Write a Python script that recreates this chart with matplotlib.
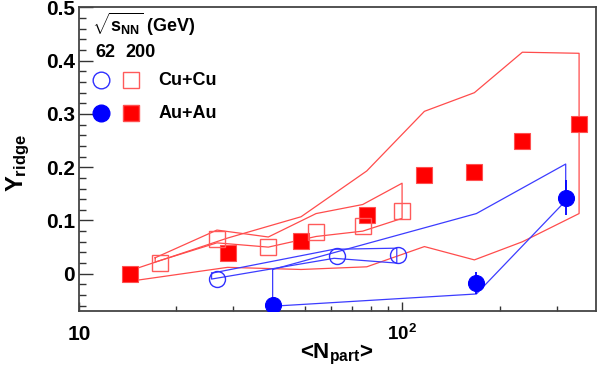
import numpy as np
import matplotlib.pyplot as plt
from matplotlib.ticker import FixedLocator, NullFormatter

plt.rcParams['font.family'] = 'Liberation Sans'
plt.rcParams['font.weight'] = 'bold'
plt.rcParams['mathtext.fontset'] = 'custom'
plt.rcParams['mathtext.rm'] = 'Liberation Sans:bold'
plt.rcParams['mathtext.it'] = 'Liberation Sans:bold'
plt.rcParams['mathtext.bf'] = 'Liberation Sans:bold'
plt.rcParams['mathtext.sf'] = 'Liberation Sans:bold'

# Au+Au 200 GeV (filled red squares) + systematic band
auau200_npart = [14.4, 28.8, 48.6, 77.6, 117, 167, 235, 352]
auau200_y = [0.0, 0.039, 0.062, 0.110, 0.185, 0.191, 0.250, 0.282]
auau200_band_n = [14.4, 28.8, 48.6, 77.6, 117, 167, 235, 352]
auau200_band_hi = [0.006, 0.067, 0.107, 0.193, 0.305, 0.340, 0.416, 0.414]
auau200_band_lo = [-0.014, 0.012, 0.008, 0.013, 0.051, 0.026, 0.060, 0.113]

# Cu+Cu 200 GeV (open red squares)
cucu200_npart = [17.8, 26.7, 38.5, 54.1, 75.4, 99.8]
cucu200_y = [0.021, 0.066, 0.051, 0.078, 0.089, 0.118]
cucu200_band_n = [17.2, 26.7, 38.5, 54.1, 75.4, 99.8]
cucu200_band_hi = [0.030, 0.082, 0.069, 0.113, 0.130, 0.170]
cucu200_band_lo = [0.022, 0.058, 0.050, 0.070, 0.080, 0.104]

# Cu+Cu 62 GeV (open blue circles)
cucu62_npart = [26.7, 62.8, 97.2]
cucu62_y = [-0.009, 0.033, 0.035]
cucu62_band_n = [25.7, 61.5, 96.1]
cucu62_band_hi = [0.001, 0.046, 0.048]
cucu62_band_lo = [-0.010, 0.029, 0.020]

# Au+Au 62 GeV (filled blue circles)
auau62_npart = [39.7, 169.4, 320]
auau62_y = [-0.059, -0.017, 0.143]
auau62_err = [0.0, 0.021, 0.033]
auau62_band_n = [39.7, 169.4, 320]
auau62_band_hi = [0.008, 0.113, 0.206]
auau62_band_lo = [-0.061, -0.038, 0.137]

red_line = '#ff4c4c'
blue_line = '#3c3cff'


def draw_band(ax, n, hi, lo, color):
    xs = list(n) + list(n[::-1]) + [n[0]]
    ys = list(hi) + list(lo[::-1]) + [hi[0]]
    ax.plot(xs, ys, color=color, lw=0.9, zorder=2)


fig = plt.figure(figsize=(6, 3.71), dpi=100)
ax = fig.add_axes([0.1317, 0.1617, 0.8616, 0.8181])

draw_band(ax, auau200_band_n, auau200_band_hi, auau200_band_lo, red_line)
draw_band(ax, cucu200_band_n, cucu200_band_hi, cucu200_band_lo, red_line)
draw_band(ax, cucu62_band_n, cucu62_band_hi, cucu62_band_lo, blue_line)
draw_band(ax, auau62_band_n, auau62_band_hi, auau62_band_lo, blue_line)

ax.errorbar(auau62_npart, auau62_y, yerr=auau62_err, fmt='none',
            ecolor='#0000ff', elinewidth=1.3, zorder=3)

ax.plot(auau200_npart, auau200_y, 's', ms=11, mfc='#ff0000', mec='#ff5050',
        mew=0.8, ls='none', zorder=4)
ax.plot(cucu200_npart, cucu200_y, 's', ms=11.5, mfc='none', mec='#ff5a5a',
        mew=1.0, ls='none', zorder=4)
ax.plot(cucu62_npart, cucu62_y, 'o', ms=11.5, mfc='none', mec='#3030ff',
        mew=1.0, ls='none', zorder=4)
ax.plot(auau62_npart, auau62_y, 'o', ms=11.5, mfc='#0000ff', mec='#0000ff',
        mew=0.8, ls='none', zorder=4)

# axes
ax.set_xscale('log')
ax.set_xlim(10, 397)
ax.set_ylim(-0.07, 0.5)

ax.set_xticks([10, 100], labels=['10', r'$10^{2}$'])
ax.xaxis.set_minor_locator(FixedLocator([20, 30, 40, 50, 60, 70, 80, 90, 200, 300]))
ax.xaxis.set_minor_formatter(NullFormatter())
ax.set_yticks([0, 0.1, 0.2, 0.3, 0.4, 0.5],
              labels=['0', '0.1', '0.2', '0.3', '0.4', '0.5'])
ax.yaxis.set_minor_locator(FixedLocator(np.arange(-0.06, 0.49, 0.02)))

ax.tick_params(axis='y', which='major', direction='in', length=10, width=1,
               labelsize=15, pad=3, color='#333333')
ax.tick_params(axis='y', which='minor', direction='in', length=5, width=1,
               color='#333333')
ax.tick_params(axis='x', which='major', direction='in', length=6.7, width=1,
               labelsize=15, pad=21, color='#333333')
ax.tick_params(axis='x', which='minor', direction='in', length=3.4, width=1,
               color='#333333')
for lab in ax.get_xticklabels():
    lab.set_va('baseline')
ax.get_xticklabels()[1].set_fontsize(13.5)

for sp in ax.spines.values():
    sp.set_color('#444444')
    sp.set_linewidth(1.3)

ax.text(0.4976, -0.142, '<N$_{part}$>', transform=ax.transAxes,
        ha='center', va='center', fontsize=16, fontweight='bold')
ax.text(-0.118, 0.486, 'Y$_{ridge}$', transform=ax.transAxes, rotation=90,
        ha='center', va='center', fontsize=17, fontweight='bold')

# legend drawn by hand
ax.text(0.025, 0.945, r'$\sqrt{s_{NN}}$ (GeV)', transform=ax.transAxes,
        ha='left', va='center', fontsize=13, fontweight='bold')
ax.text(0.0503, 0.852, '62', transform=ax.transAxes, ha='center',
        va='center', fontsize=13, fontweight='bold')
ax.text(0.119, 0.852, '200', transform=ax.transAxes, ha='center',
        va='center', fontsize=13, fontweight='bold')
ax.plot([0.0426], [0.761], 'o', ms=12, mfc='none', mec='#3030ff', mew=1.0,
        transform=ax.transAxes, clip_on=False)
ax.plot([0.1006], [0.761], 's', ms=12, mfc='none', mec='#ff5a5a', mew=1.0,
        transform=ax.transAxes, clip_on=False)
ax.plot([0.0426], [0.652], 'o', ms=12, mfc='#0000ff', mec='#0000ff',
        transform=ax.transAxes, clip_on=False)
ax.plot([0.1006], [0.652], 's', ms=11.5, mfc='#ff0000', mec='#ff5050',
        transform=ax.transAxes, clip_on=False)
ax.text(0.153, 0.761, 'Cu+Cu', transform=ax.transAxes, ha='left',
        va='center', fontsize=13, fontweight='bold')
ax.text(0.153, 0.652, 'Au+Au', transform=ax.transAxes, ha='left',
        va='center', fontsize=13, fontweight='bold')

fig.savefig('out.png', dpi=100)
